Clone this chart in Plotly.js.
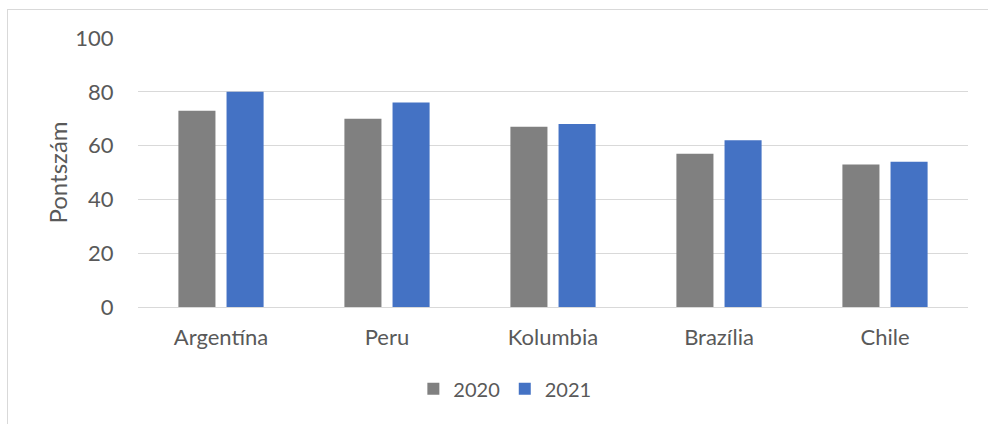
<!DOCTYPE html>
<html>
<head>
<meta charset="utf-8">
<script src="https://cdn.plot.ly/plotly-3.0.1.min.js"></script>
<style>
  html, body { margin: 0; padding: 0; background: #fff; overflow: hidden; }
  #frame { position: absolute; left: 7px; top: 9px; width: 981px; height: 415px;
           border-left: 1px solid #d9d9d9; border-top: 1px solid #d9d9d9; }
  #chart { width: 980px; height: 414px; }
</style>
</head>
<body>
<div id="frame"><div id="chart"></div></div>
<script>
const categories = ["Argentína", "Peru", "Kolumbia", "Brazília", "Chile"];
const values2020 = [73, 70, 67, 57, 53];
const values2021 = [80, 76, 68, 62, 54];
const seriesNames = ["2020", "2021"];
const yTicks = [0, 20, 40, 60, 80, 100];

const font = "Lato, 'Open Sans', sans-serif";
const grey = "#595959";

const traces = [
  { type: "bar", name: seriesNames[0], x: categories, y: values2020,
    marker: { color: "#808080" } },
  { type: "bar", name: seriesNames[1], x: categories, y: values2021,
    marker: { color: "#4472c4" } }
];

const layout = {
  width: 980, height: 414,
  margin: { l: 130, r: 20, t: 28, b: 117 },
  paper_bgcolor: "#fff", plot_bgcolor: "#fff",
  barmode: "group", bargap: 0.42, bargroupgap: 0.23,
  font: { family: font, color: grey, size: 21 },
  xaxis: {
    showgrid: false, showline: true, linecolor: "#d9d9d9", linewidth: 1,
    ticks: "outside", ticklen: 11, tickcolor: "rgba(0,0,0,0)",
    tickfont: { family: font, size: 22, color: grey }
  },
  yaxis: {
    range: [0, 100], tickvals: yTicks, showgrid: true, gridcolor: "#d9d9d9", gridwidth: 1,
    zeroline: false, showline: false,
    ticks: "outside", ticklen: 19, tickcolor: "rgba(0,0,0,0)",
    tickfont: { family: font, size: 22, color: grey },
    title: { text: "Pontszám", font: { family: font, size: 24, color: grey }, standoff: 0 }
  },
  showlegend: true,
  legend: {
    orientation: "h", xref: "container", yref: "container",
    x: 0.507, xanchor: "center", y: 0.085, yanchor: "middle",
    font: { family: font, size: 20, color: grey },
    itemwidth: 30, tracegroupgap: 0
  }
};

Plotly.newPlot("chart", traces, layout, { displayModeBar: false, staticPlot: true });
</script>
</body>
</html>
